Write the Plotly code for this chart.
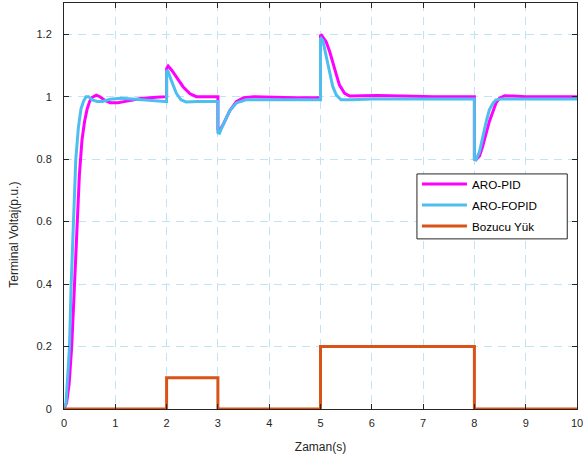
import plotly.graph_objects as go

# ARO-PID (magenta)
t_pid = [0, 0.05, 0.1, 0.15, 0.2, 0.25, 0.3, 0.35, 0.4, 0.45, 0.5, 0.55, 0.63, 0.7, 0.8, 0.9, 1.05, 1.2, 1.5, 1.8, 2.0,
         2.0, 2.03, 2.1, 2.19, 2.32, 2.45, 2.58, 2.8, 3.0,
         3.0, 3.03, 3.1, 3.23, 3.36, 3.5, 3.7, 4.0, 4.5, 5.0,
         5.0, 5.02, 5.11, 5.18, 5.24, 5.31, 5.37, 5.47, 5.57, 5.8, 6.1, 6.6, 7.2, 8.0,
         8.0, 8.03, 8.1, 8.16, 8.23, 8.29, 8.36, 8.42, 8.49, 8.59, 8.75, 9.0, 9.5, 10.0]
v_pid = [0, 0.02, 0.08, 0.2, 0.38, 0.57, 0.75, 0.86, 0.92, 0.96, 0.985, 0.998, 1.005, 1.0, 0.988, 0.981, 0.981, 0.985, 0.994, 0.998, 1.0,
         1.09, 1.098, 1.085, 1.064, 1.032, 1.01, 1.0, 1.0, 1.0,
         0.895, 0.891, 0.91, 0.955, 0.984, 0.997, 1.0, 0.998, 0.997, 0.997,
         1.195, 1.197, 1.176, 1.144, 1.107, 1.07, 1.037, 1.011, 1.002, 1.003, 1.004, 1.002, 1.0, 1.0,
         0.8, 0.798, 0.81, 0.84, 0.883, 0.92, 0.952, 0.979, 0.995, 1.003, 1.002, 1.0, 1.0, 1.0]

# ARO-FOPID (cyan)
t_fopid = [0, 0.04, 0.07, 0.107, 0.14, 0.185, 0.23, 0.28, 0.33, 0.38, 0.43, 0.48, 0.55, 0.65, 0.75, 0.9, 1.1, 1.4, 1.7, 2.0,
           2.0, 2.02, 2.09, 2.19, 2.28, 2.38, 2.6, 3.0,
           3.0, 3.03, 3.1, 3.23, 3.36, 3.55, 4.0, 4.5, 5.0,
           5.0, 5.01, 5.045, 5.11, 5.18, 5.24, 5.31, 5.4, 5.6, 6.0, 7.0, 8.0,
           8.0, 8.03, 8.1, 8.16, 8.23, 8.29, 8.36, 8.42, 8.55, 9.0, 10.0]
v_fopid = [0, 0.02, 0.1, 0.2, 0.4, 0.6, 0.8, 0.9, 0.96, 0.985, 1.0, 1.0, 0.99, 0.985, 0.985, 0.992, 0.995, 0.992, 0.988, 0.984,
           1.08, 1.085, 1.053, 1.011, 0.99, 0.983, 0.985, 0.985,
           0.885, 0.883, 0.91, 0.955, 0.98, 0.99, 0.99, 0.99, 0.99,
           1.185, 1.187, 1.18, 1.128, 1.075, 1.032, 1.005, 0.99, 0.99, 0.993, 0.993, 0.993,
           0.8, 0.798, 0.824, 0.872, 0.92, 0.957, 0.979, 0.99, 0.993, 0.993, 0.993]

# Bozucu Yük (disturbance, step)
t_load = [0, 2, 3, 5, 8, 10]
v_load = [0, 0.1, 0, 0.2, 0, 0]

x_ticks = [0, 1, 2, 3, 4, 5, 6, 7, 8, 9, 10]
y_ticks = [0, 0.2, 0.4, 0.6, 0.8, 1, 1.2]
y_tick_text = ["0", "0.2", "0.4", "0.6", "0.8", "1", "1.2"]

fig = go.Figure()
fig.add_trace(go.Scatter(x=t_pid, y=v_pid, mode="lines", name="ARO-PID", legendgroup="a",
                         line=dict(color="#FF00FF", width=3)))
fig.add_trace(go.Scatter(x=t_fopid, y=v_fopid, mode="lines", name="ARO-FOPID", legendgroup="b",
                         line=dict(color="#4DBEEE", width=3)))
fig.add_trace(go.Scatter(x=t_load, y=v_load, mode="lines", name="Bozucu Yük", legendgroup="c",
                         line=dict(color="#D95319", width=3, shape="hv")))

axis_col = "#262626"
grid_col = "rgb(190,228,246)"
fig.update_layout(
    width=583, height=457,
    margin=dict(l=64, r=6, t=3, b=48, autoexpand=False),
    paper_bgcolor="white", plot_bgcolor="white",
    font=dict(family="Liberation Sans, Arial, sans-serif", size=11, color=axis_col),
    showlegend=True,
    legend=dict(x=0.688, y=0.590, xanchor="left", yanchor="top",
                bgcolor="rgba(0,0,0,0)", borderwidth=0,
                font=dict(size=11.7, color="black"), itemwidth=45,
                tracegroupgap=2),
    shapes=[dict(type="rect", xref="paper", yref="paper",
                 x0=0.688, x1=0.981, y0=0.419, y1=0.579,
                 line=dict(color="#262626", width=1), fillcolor="white", layer="above")],
    xaxis=dict(range=[0, 10], tickvals=x_ticks, ticks="inside", ticklen=5,
               tickcolor=axis_col, showline=True, linecolor=axis_col, linewidth=1,
               mirror="ticks", showgrid=True, gridcolor=grid_col, griddash="8px,6px",
               gridwidth=1, zeroline=False, automargin=False, ticklabeloverflow="allow",
               ticklabelstandoff=4,
               title=dict(text="Zaman(s)", font=dict(size=12), standoff=14)),
    yaxis=dict(range=[0, 1.3], tickvals=y_ticks, ticktext=y_tick_text, ticks="inside", ticklen=5,
               tickcolor=axis_col, showline=True, linecolor=axis_col, linewidth=1,
               mirror="ticks", showgrid=True, gridcolor=grid_col, griddash="8px,6px",
               gridwidth=1, zeroline=False, ticklabelstandoff=9, automargin=False),
    annotations=[dict(text="Terminal Voltaj(p.u.)", textangle=-90, xref="paper", yref="paper",
                      x=-0.097, y=0.43, xanchor="center", yanchor="middle",
                      showarrow=False, font=dict(size=12, color=axis_col))],
)

fig.write_html("out.html", config={"displayModeBar": False},
               post_script="document.body.style.margin='0';document.body.style.overflow='hidden';")
